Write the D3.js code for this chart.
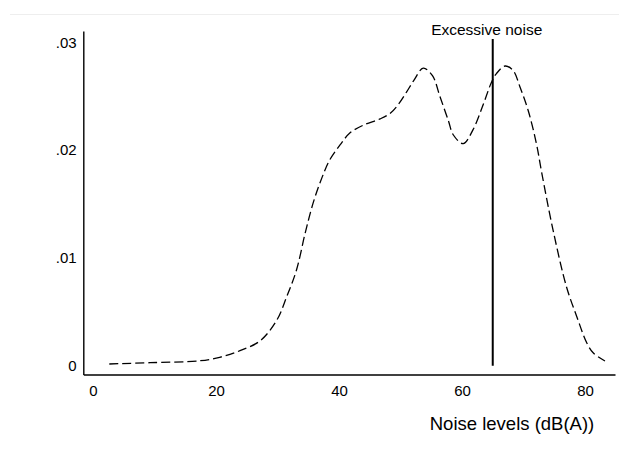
<!DOCTYPE html>
<html>
<head>
<meta charset="utf-8">
<script src="https://cdn.jsdelivr.net/npm/d3@7"></script>
<style>
  body { margin: 0; background: #fff; }
  svg { font-family: "Liberation Sans", Arial, sans-serif; }
</style>
</head>
<body>
<svg id="chart" width="619" height="458"></svg>
<script>
// kernel density of noise levels
const noiseLevel = [2.65, 9.3, 17.4, 20.6, 23.9, 27.2, 29.9, 31.5, 33.1, 34.5,
  35.8, 37.2, 38.5, 40.2, 41.8, 43.9, 46.7, 48.3, 49.6, 51.0,
  52.2, 53.7, 55.2, 56.4, 57.8, 58.6, 60.2, 61.8, 63.5, 64.8,
  65.6, 67.0, 68.3, 69.4, 70.8, 72.1, 73.0, 74.8, 77.0, 78.7,
  80.3, 81.4, 83.25];
const density = [0.00016, 0.00028, 0.00046, 0.00078, 0.00139, 0.00232, 0.00424, 0.0064, 0.0089, 0.0123,
  0.0151, 0.0174, 0.0191, 0.0205, 0.0216, 0.0223, 0.0229, 0.0234, 0.0242, 0.0254,
  0.0265, 0.0276, 0.0269, 0.0250, 0.0227, 0.0214, 0.0206, 0.0219, 0.0243, 0.0263,
  0.0271, 0.0278, 0.0274, 0.0259, 0.0236, 0.0206, 0.0178, 0.0126, 0.0073, 0.0045,
  0.0021, 0.00115, 0.00044];
const xTicks = [0, 20, 40, 60, 80];
const yTicks = [0, 0.01, 0.02, 0.03];
const yTickLabels = ['0', '.01', '.02', '.03'];
const threshold = 65;
const thresholdTop = 0.0303;
const thresholdLabel = 'Excessive noise';
const xTitle = 'Noise levels (dB(A))';

const svg = d3.select('#chart');

// faint frame line at the top
svg.append('line')
    .attr('x1', 10).attr('x2', 619)
    .attr('y1', 14.5).attr('y2', 14.5)
    .attr('stroke', '#eeeeee');

const x = d3.scaleLinear().domain([-1.577, 84.88]).range([83.3, 615]);
const y = d3.scaleLinear().domain([-0.000816, 0.031048]).range([374.5, 31]);

// axes
const xAxis = svg.append('g')
    .attr('transform', `translate(0,${y.range()[0]})`)
    .call(d3.axisBottom(x).tickValues(xTicks).tickSize(0).tickPadding(11).tickSizeOuter(0));
xAxis.selectAll('text').attr('font-size', 15).attr('fill', '#000');

const yAxis = svg.append('g')
    .attr('transform', `translate(${x.range()[0]},0)`)
    .call(d3.axisLeft(y).tickValues(yTicks).tickSize(0).tickPadding(6.6).tickSizeOuter(0)
        .tickFormat((d, i) => yTickLabels[i]));
yAxis.selectAll('text').attr('font-size', 15).attr('fill', '#000');

svg.selectAll('.domain').attr('stroke', '#000').attr('stroke-width', 1.4);

// density curve
const pts = noiseLevel.map((v, i) => [v, density[i]]);
const line = d3.line()
    .x(d => x(d[0]))
    .y(d => y(d[1]))
    .curve(d3.curveCatmullRom.alpha(0.5));

svg.append('path')
    .datum(pts)
    .attr('d', line)
    .attr('fill', 'none')
    .attr('stroke', '#000')
    .attr('stroke-width', 1.3)
    .attr('stroke-dasharray', '9,4');

// threshold line
svg.append('line')
    .attr('x1', x(threshold)).attr('x2', x(threshold))
    .attr('y1', y(0)).attr('y2', y(thresholdTop))
    .attr('stroke', '#000')
    .attr('stroke-width', 2);

svg.append('text')
    .attr('x', x(threshold) - 6)
    .attr('y', 34.5)
    .attr('text-anchor', 'middle')
    .attr('font-size', 15.5)
    .text(thresholdLabel);

// x title
svg.append('text')
    .attr('x', 512)
    .attr('y', 429.5)
    .attr('text-anchor', 'middle')
    .attr('font-size', 18.5)
    .text(xTitle);
</script>
</body>
</html>
